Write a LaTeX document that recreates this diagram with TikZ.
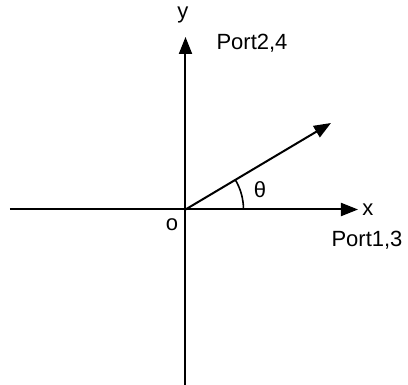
\documentclass[tikz,border=0pt]{standalone}
\usepackage{fontspec}
\setmainfont{Liberation Sans}
\usepackage{tikz}
\usetikzlibrary{arrows.meta,calc}

\begin{document}
\begin{tikzpicture}[x=1pt,y=1pt,line width=2pt,
    axis/.style={-{Triangle[length=17pt,width=13pt]}},
    lbl/.style={inner sep=0pt,font=\fontsize{22}{24}\selectfont}]
    \useasboundingbox (-185.5,-175.5) rectangle (222.5,209.5);
    \coordinate (o) at (0,0);
    \coordinate (xl) at (-175.5,0);
    \coordinate (xr) at (172.5,0);
    \coordinate (yb) at (0,-176);
    \coordinate (yt) at (0,172.5);
    \coordinate (v) at (145.5,86.5);
    \draw (xl) -- (o);
    \draw[axis] (o) -- (xr);
    \draw (yb) -- (o);
    \draw[axis] (o) -- (yt);
    \draw[axis] (o) -- (v);
    \draw[line width=1.6pt] (58,0) arc[start angle=0,end angle=30.7,radius=58];
    \node[lbl] (xlab) at (182.5,0) {x};
    \node[lbl] (ylab) at (-2.5,195) {y};
    \node[lbl] (olab) at (-13.5,-15.5) {o};
    \node[lbl] (th) at (74.5,19.5) {θ};
    \node[lbl] (p24) at (66.5,166.5) {Port2,4};
    \node[lbl] (p13) at (181.5,-30.5) {Port1,3};
\end{tikzpicture}
\end{document}
